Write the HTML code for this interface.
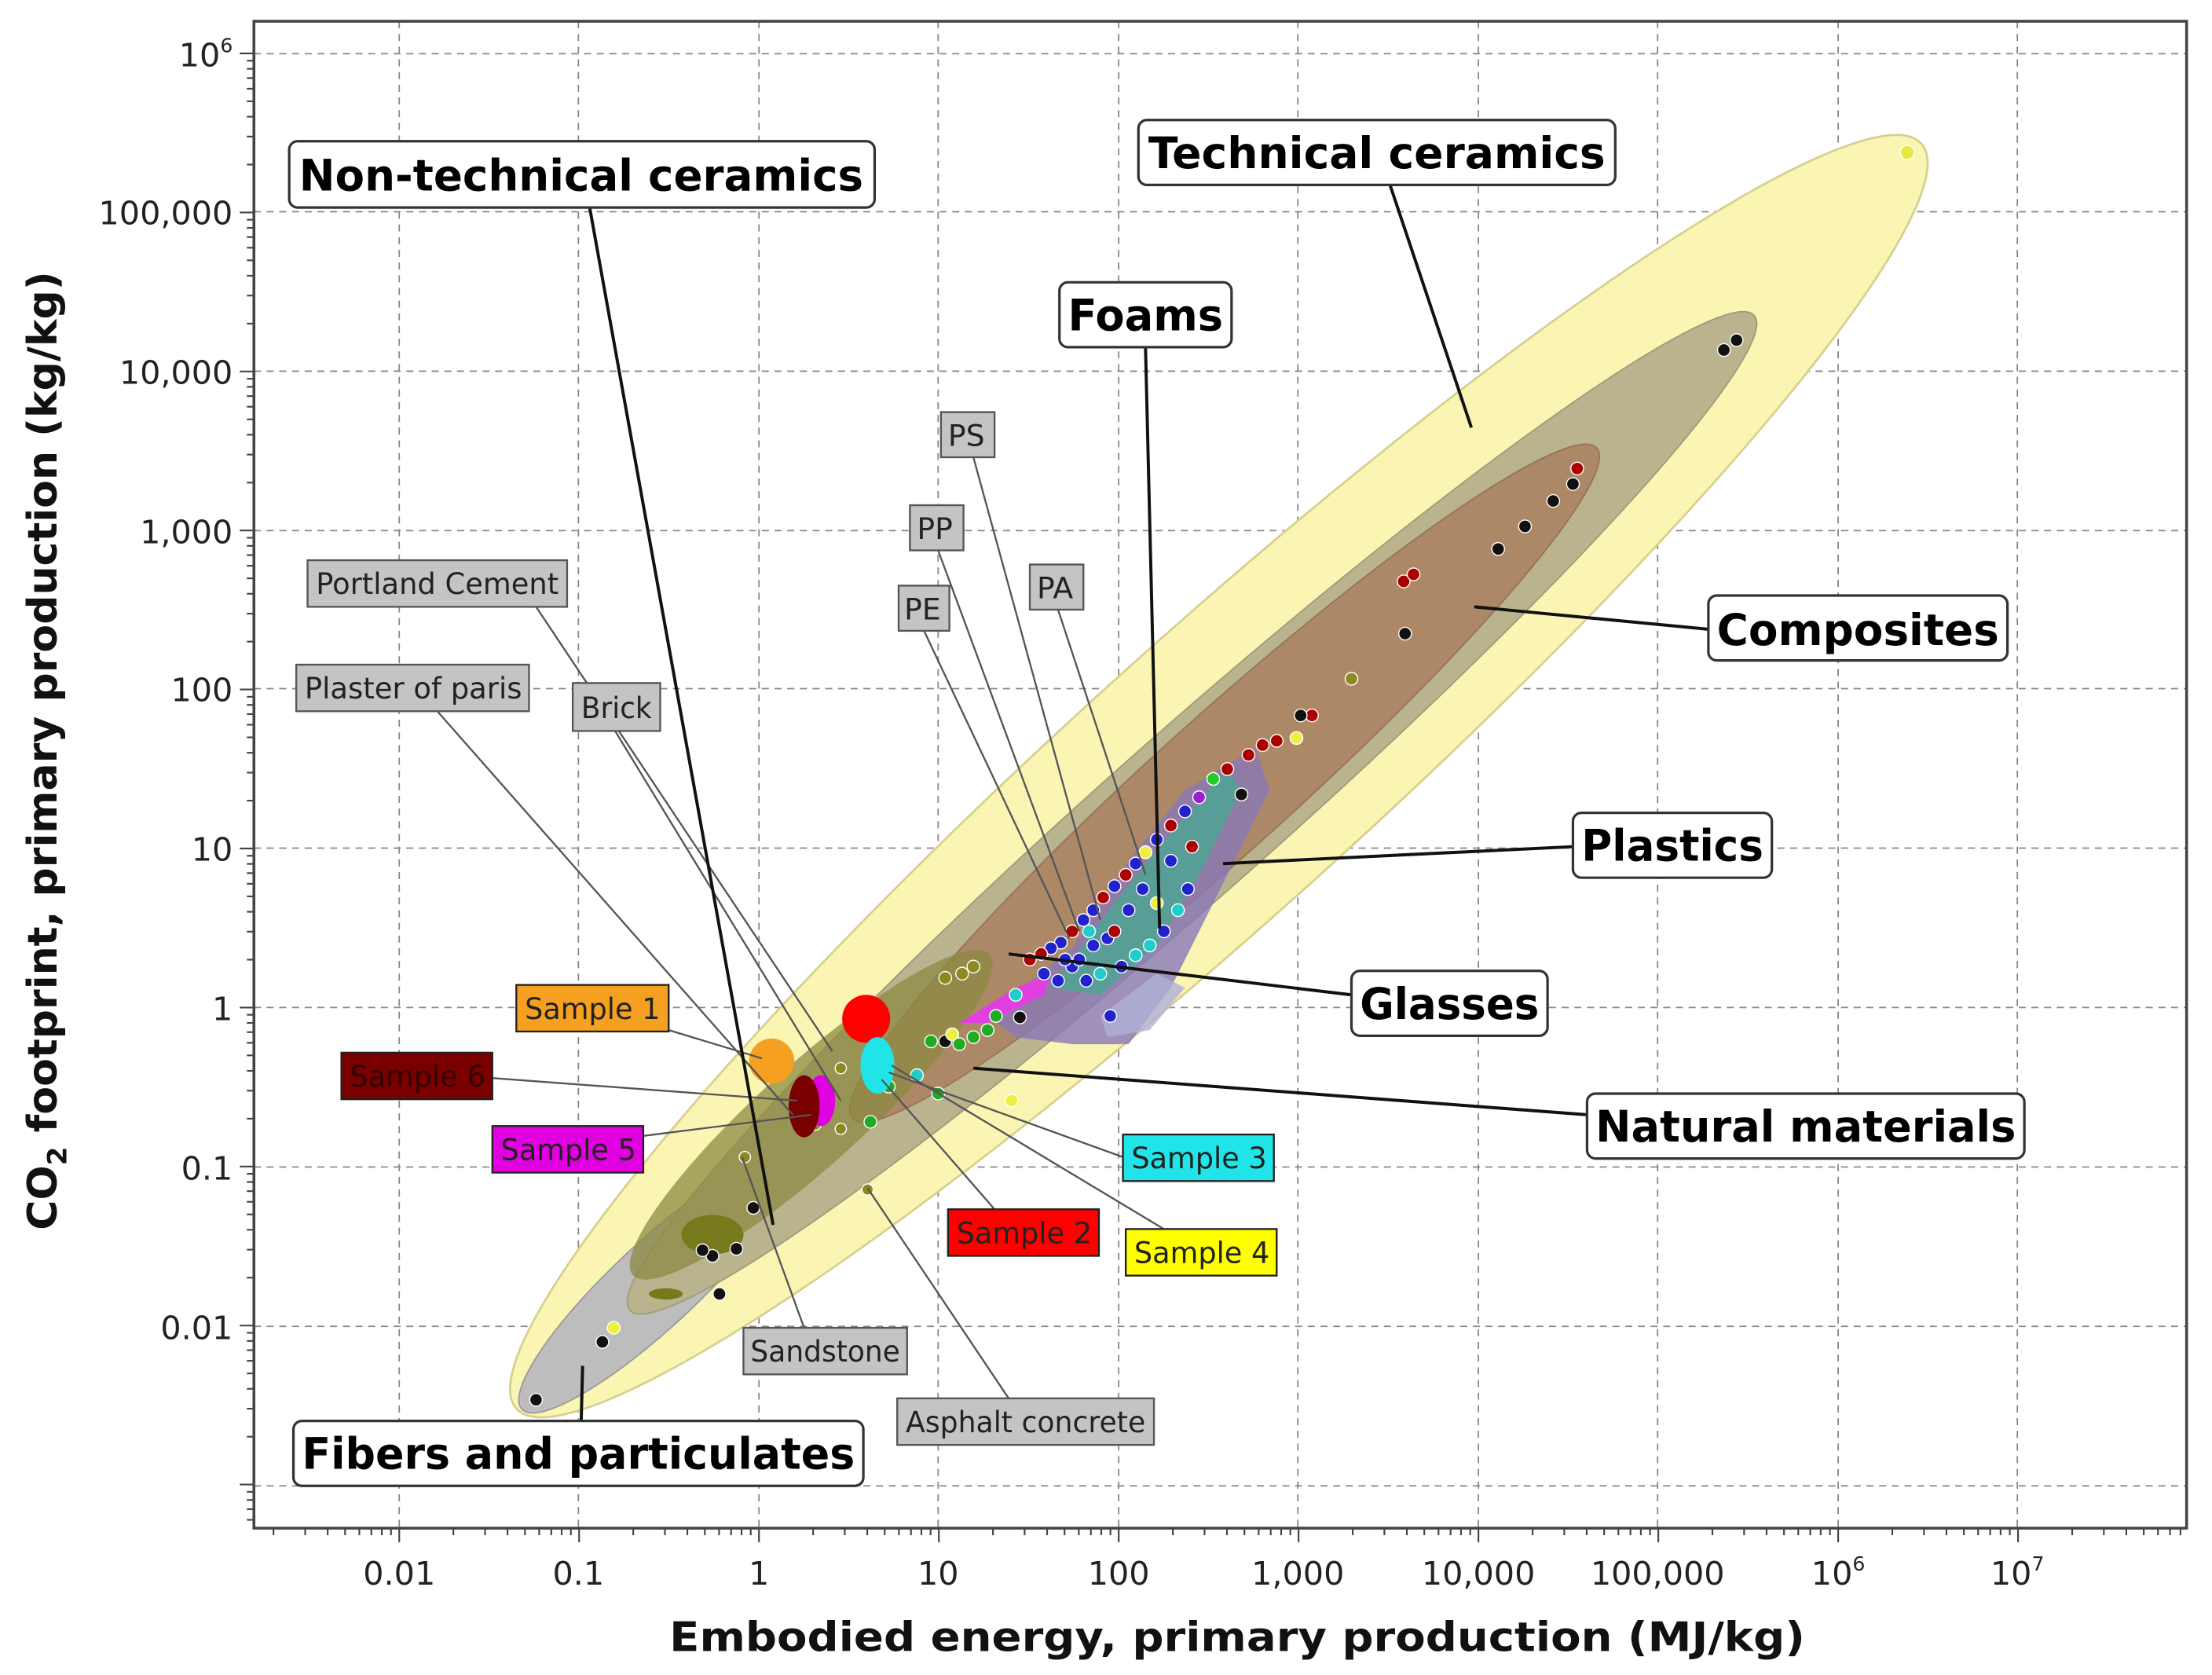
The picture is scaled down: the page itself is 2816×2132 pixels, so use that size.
<!DOCTYPE html>
<html><head><meta charset="utf-8"><style>
html,body{margin:0;padding:0;background:#fff;}
svg{display:block;}
text{font-family:"DejaVu Sans","Liberation Sans",sans-serif;}
</style></head><body>
<svg id="s" width="2816" height="2132" viewBox="0 0 1568 1187" xmlns="http://www.w3.org/2000/svg">
<rect width="1568" height="1187" fill="#fff"/>
<g stroke="#888" stroke-width="1" stroke-dasharray="5,4">
<line x1="180" y1="38" x2="1550" y2="38"/><line x1="180" y1="150" x2="1550" y2="150"/><line x1="180" y1="263" x2="1550" y2="263"/><line x1="180" y1="376" x2="1550" y2="376"/><line x1="180" y1="488" x2="1550" y2="488"/><line x1="180" y1="601" x2="1550" y2="601"/><line x1="180" y1="714" x2="1550" y2="714"/><line x1="180" y1="827" x2="1550" y2="827"/><line x1="180" y1="940" x2="1550" y2="940"/><line x1="180" y1="1053" x2="1550" y2="1053"/>
<line x1="283" y1="15" x2="283" y2="1083"/><line x1="410" y1="15" x2="410" y2="1083"/><line x1="538" y1="15" x2="538" y2="1083"/><line x1="665" y1="15" x2="665" y2="1083"/><line x1="793" y1="15" x2="793" y2="1083"/><line x1="920" y1="15" x2="920" y2="1083"/><line x1="1048" y1="15" x2="1048" y2="1083"/><line x1="1175" y1="15" x2="1175" y2="1083"/><line x1="1303" y1="15" x2="1303" y2="1083"/><line x1="1430" y1="15" x2="1430" y2="1083"/>
</g>
<ellipse cx="864" cy="550" rx="670" ry="100" transform="rotate(-42 864 550)" fill="#fbf5b4" stroke="#d6cf8e" stroke-width="1.5"/>
<ellipse cx="465" cy="910" rx="130" ry="30" transform="rotate(-43 465 910)" fill="#bdbdbd" stroke="#999"/>
<ellipse cx="845" cy="576" rx="532" ry="58" transform="rotate(-41.5 845 576)" fill="#b9b38e" stroke="#a09a78"/>
<ellipse cx="868" cy="555" rx="355" ry="48" transform="rotate(-42 868 555)" fill="#ad8867" stroke="#957456"/>
<ellipse cx="575" cy="790" rx="170" ry="36" transform="rotate(-42 575 790)" fill="#8c8a42" opacity="0.75"/>
<ellipse cx="505" cy="875" rx="22" ry="14" fill="#777a1c"/>
<ellipse cx="472" cy="917" rx="12" ry="4" fill="#777a1c"/>
<polygon points="700,720 760,672 800,610 840,560 890,530 900,560 860,640 830,700 800,740 760,740 720,735" fill="#8878b8" opacity="0.8"/>
<polygon points="745,700 790,640 830,590 870,545 880,560 850,620 820,670 780,705" fill="#4fa393" opacity="0.85"/>
<polygon points="680,725 720,700 745,690 740,705 700,725" fill="#e040e0"/>
<polygon points="780,720 820,690 840,700 815,730 785,735" fill="#b0b0d8" opacity="0.8"/>
<g stroke="#fff" stroke-width="0.8">
<circle cx="1352" cy="108" r="5" fill="#e8e840"/>
<circle cx="1222" cy="248" r="4.5" fill="#111"/><circle cx="1231" cy="241" r="4.5" fill="#111"/>
<circle cx="1118" cy="332" r="4.5" fill="#a00"/><circle cx="1115" cy="343" r="4.5" fill="#111"/><circle cx="1101" cy="355" r="4.5" fill="#111"/><circle cx="1081" cy="373" r="4.5" fill="#111"/><circle cx="1062" cy="389" r="4.5" fill="#111"/>
<circle cx="995" cy="412" r="4.5" fill="#a00"/><circle cx="1002" cy="407" r="4.5" fill="#a00"/><circle cx="996" cy="449" r="4.5" fill="#111"/>
<circle cx="958" cy="481" r="4.5" fill="#8a8a20"/><circle cx="930" cy="507" r="4.5" fill="#a00"/><circle cx="922" cy="507" r="4.5" fill="#111"/><circle cx="919" cy="523" r="4.5" fill="#ee4"/>
<circle cx="880" cy="563" r="4.5" fill="#111"/><circle cx="860" cy="552" r="4.5" fill="#2c2"/><circle cx="850" cy="565" r="4.5" fill="#92c"/><circle cx="840" cy="575" r="4.5" fill="#22c"/><circle cx="830" cy="585" r="4.5" fill="#a00"/><circle cx="820" cy="595" r="4.5" fill="#22c"/><circle cx="812" cy="604" r="4.5" fill="#ee4"/><circle cx="805" cy="612" r="4.5" fill="#22c"/><circle cx="798" cy="620" r="4.5" fill="#a00"/><circle cx="790" cy="628" r="4.5" fill="#22c"/><circle cx="782" cy="636" r="4.5" fill="#a00"/><circle cx="775" cy="645" r="4.5" fill="#22c"/><circle cx="768" cy="652" r="4.5" fill="#22c"/><circle cx="760" cy="660" r="4.5" fill="#a00"/><circle cx="752" cy="668" r="4.5" fill="#22c"/><circle cx="745" cy="672" r="4.5" fill="#22c"/><circle cx="738" cy="676" r="4.5" fill="#a00"/><circle cx="730" cy="680" r="4.5" fill="#a00"/>
<circle cx="870" cy="545" r="4.5" fill="#a00"/><circle cx="885" cy="535" r="4.5" fill="#a00"/><circle cx="895" cy="528" r="4.5" fill="#a00"/><circle cx="905" cy="525" r="4.5" fill="#a00"/>
<circle cx="842" cy="630" r="4.5" fill="#22c"/><circle cx="835" cy="645" r="4.5" fill="#2cc"/><circle cx="825" cy="660" r="4.5" fill="#22c"/><circle cx="815" cy="670" r="4.5" fill="#2cc"/><circle cx="805" cy="677" r="4.5" fill="#2cc"/><circle cx="795" cy="685" r="4.5" fill="#22c"/><circle cx="780" cy="690" r="4.5" fill="#2cc"/><circle cx="770" cy="695" r="4.5" fill="#22c"/><circle cx="760" cy="685" r="4.5" fill="#22c"/><circle cx="765" cy="680" r="4.5" fill="#22c"/><circle cx="775" cy="670" r="4.5" fill="#22c"/><circle cx="785" cy="665" r="4.5" fill="#22c"/><circle cx="740" cy="690" r="4.5" fill="#22c"/><circle cx="750" cy="695" r="4.5" fill="#22c"/>
<circle cx="800" cy="645" r="4.5" fill="#22c"/><circle cx="810" cy="630" r="4.5" fill="#22c"/><circle cx="790" cy="660" r="4.5" fill="#a00"/><circle cx="772" cy="660" r="4.5" fill="#2cc"/><circle cx="755" cy="680" r="4.5" fill="#22c"/><circle cx="830" cy="610" r="4.5" fill="#22c"/><circle cx="845" cy="600" r="4.5" fill="#a00"/><circle cx="820" cy="640" r="4.5" fill="#ee4"/>
<circle cx="787" cy="720" r="4.5" fill="#22c"/><circle cx="723" cy="721" r="4.5" fill="#111"/><circle cx="706" cy="720" r="4.5" fill="#2a2"/><circle cx="720" cy="705" r="4.5" fill="#2cc"/>
<circle cx="682" cy="690" r="4.5" fill="#8a8a20"/><circle cx="670" cy="693" r="4.5" fill="#8a8a20"/><circle cx="690" cy="685" r="4.5" fill="#8a8a20"/>
<circle cx="670" cy="738" r="4.5" fill="#111"/><circle cx="675" cy="733" r="4.5" fill="#ee4"/><circle cx="660" cy="738" r="4.5" fill="#2a2"/><circle cx="680" cy="740" r="4.5" fill="#2a2"/><circle cx="690" cy="735" r="4.5" fill="#2a2"/><circle cx="700" cy="730" r="4.5" fill="#2a2"/><circle cx="665" cy="775" r="4.5" fill="#2a2"/><circle cx="650" cy="762" r="4.5" fill="#2cc"/><circle cx="630" cy="770" r="4.5" fill="#2a2"/><circle cx="617" cy="795" r="4.5" fill="#2a2"/><circle cx="615" cy="843" r="4" fill="#8a8a20"/>
<circle cx="717" cy="780" r="4.5" fill="#ee4"/>
<circle cx="596" cy="757" r="4" fill="#8a8a20"/><circle cx="596" cy="800" r="4" fill="#8a8a20"/><circle cx="578" cy="797" r="4" fill="#8a8a20"/><circle cx="528" cy="820" r="4" fill="#8a8a20"/>
<circle cx="534" cy="856" r="4.5" fill="#111"/><circle cx="522" cy="885" r="4.5" fill="#111"/><circle cx="505" cy="890" r="4.5" fill="#111"/><circle cx="498" cy="886" r="4.5" fill="#111"/><circle cx="510" cy="917" r="4.5" fill="#111"/>
<circle cx="435" cy="941" r="4.5" fill="#ee4"/><circle cx="427" cy="951" r="4.5" fill="#111"/><circle cx="380" cy="992" r="4.5" fill="#111"/>
</g>
<circle cx="547" cy="752" r="16" fill="#f5a020"/>
<circle cx="614" cy="722" r="17" fill="#f00"/>
<ellipse cx="582" cy="780" rx="10" ry="18" fill="#e000e0"/>
<ellipse cx="570" cy="784" rx="11" ry="22" fill="#7a0000"/>
<ellipse cx="622" cy="755" rx="12" ry="20" fill="#20e4e8"/>
<g stroke="#555" stroke-width="1.3" fill="none">
<line x1="690" y1="324" x2="780" y2="652"/><line x1="665" y1="390" x2="765" y2="660"/><line x1="655" y1="447" x2="758" y2="665"/><line x1="750" y1="432" x2="812" y2="620"/>
<line x1="380" y1="430" x2="590" y2="745"/><line x1="310" y1="504" x2="562" y2="790"/><line x1="436" y1="518" x2="596" y2="780"/>
<line x1="570" y1="941" x2="526" y2="820"/><line x1="715" y1="991" x2="615" y2="842"/>
<line x1="474" y1="730" x2="540" y2="750"/><line x1="349" y1="764" x2="565" y2="780"/><line x1="456" y1="805" x2="575" y2="790"/>
<line x1="796" y1="820" x2="630" y2="760"/><line x1="705" y1="857" x2="625" y2="765"/><line x1="825" y1="871" x2="632" y2="755"/>
</g>
<g stroke="#111" stroke-width="2.2" fill="none">
<line x1="418" y1="147" x2="548" y2="868"/><line x1="985" y1="130" x2="1043" y2="303"/><line x1="812" y1="246" x2="822" y2="658"/>
<line x1="1212" y1="446" x2="1045" y2="430"/><line x1="1115" y1="600" x2="867" y2="612"/><line x1="958" y1="705" x2="715" y2="676"/>
<line x1="1125" y1="790" x2="690" y2="757"/><line x1="412" y1="1007" x2="413" y2="968"/>
</g>
<g fill="#fff" stroke="#333" stroke-width="1.8">
<rect x="205" y="100" width="415" height="47" rx="6"/><rect x="807" y="85" width="338" height="46" rx="6"/><rect x="751" y="200" width="122" height="46" rx="6"/>
<rect x="1211" y="422" width="212" height="46" rx="6"/><rect x="1115" y="576" width="141" height="46" rx="6"/><rect x="958" y="688" width="139" height="46" rx="6"/>
<rect x="1125" y="775" width="310" height="46" rx="6"/><rect x="208" y="1007" width="404" height="46" rx="6"/>
</g>
<g font-weight="bold" font-size="31" fill="#000" font-family="Liberation Sans, sans-serif">
<text x="212" y="135" textLength="400" lengthAdjust="spacingAndGlyphs">Non-technical ceramics</text>
<text x="814" y="119" textLength="324" lengthAdjust="spacingAndGlyphs">Technical ceramics</text>
<text x="757" y="234" textLength="110" lengthAdjust="spacingAndGlyphs">Foams</text>
<text x="1217" y="457" textLength="200" lengthAdjust="spacingAndGlyphs">Composites</text>
<text x="1121" y="610" textLength="129" lengthAdjust="spacingAndGlyphs">Plastics</text>
<text x="964" y="722" textLength="127" lengthAdjust="spacingAndGlyphs">Glasses</text>
<text x="1131" y="809" textLength="298" lengthAdjust="spacingAndGlyphs">Natural materials</text>
<text x="214" y="1041" textLength="392" lengthAdjust="spacingAndGlyphs">Fibers and particulates</text>
</g>
<g fill="#c4c4c4" stroke="#555" stroke-width="1.3">
<rect x="667" y="292" width="38" height="32"/><rect x="645" y="358" width="38" height="32"/><rect x="637" y="415" width="36" height="32"/><rect x="730" y="400" width="38" height="32"/>
<rect x="218" y="397" width="184" height="33"/><rect x="210" y="471" width="165" height="33"/><rect x="406" y="484" width="62" height="34"/>
<rect x="527" y="941" width="116" height="33"/><rect x="636" y="991" width="182" height="33"/>
</g>
<g font-size="21" fill="#222">
<text x="672" y="316">PS</text><text x="650" y="382">PP</text><text x="641" y="439">PE</text><text x="735" y="424">PA</text>
<text x="224" y="421" textLength="172" lengthAdjust="spacingAndGlyphs">Portland Cement</text>
<text x="216" y="495" textLength="154" lengthAdjust="spacingAndGlyphs">Plaster of paris</text>
<text x="412" y="509" textLength="50" lengthAdjust="spacingAndGlyphs">Brick</text>
<text x="532" y="965" textLength="106" lengthAdjust="spacingAndGlyphs">Sandstone</text>
<text x="642" y="1015" textLength="170" lengthAdjust="spacingAndGlyphs">Asphalt concrete</text>
</g>
<g stroke="#222" stroke-width="1.3">
<rect x="366" y="698" width="108" height="33" fill="#f5a020"/><rect x="242" y="746" width="107" height="33" fill="#7a0000"/>
<rect x="349" y="798" width="107" height="33" fill="#e000e0"/><rect x="796" y="804" width="107" height="33" fill="#20e4e8"/>
<rect x="672" y="857" width="107" height="33" fill="#f00"/><rect x="798" y="871" width="107" height="33" fill="#ff0"/>
</g>
<g font-size="21" fill="#222">
<text x="372" y="722" textLength="96" lengthAdjust="spacingAndGlyphs">Sample 1</text>
<text x="248" y="770" textLength="96" lengthAdjust="spacingAndGlyphs" fill="#300">Sample 6</text>
<text x="355" y="822" textLength="96" lengthAdjust="spacingAndGlyphs">Sample 5</text>
<text x="802" y="828" textLength="96" lengthAdjust="spacingAndGlyphs">Sample 3</text>
<text x="678" y="881" textLength="96" lengthAdjust="spacingAndGlyphs">Sample 2</text>
<text x="804" y="895" textLength="96" lengthAdjust="spacingAndGlyphs">Sample 4</text>
</g>
<rect x="180" y="15" width="1370" height="1068" fill="none" stroke="#444" stroke-width="2"/>
<g id="ticks" stroke="#444" stroke-width="1.2"></g>
<g font-size="23" fill="#222" text-anchor="end">
<text x="165" y="47">10<tspan font-size="14" dy="-10">6</tspan></text>
<text x="165" y="159">100,000</text><text x="165" y="272">10,000</text><text x="165" y="385">1,000</text><text x="165" y="497">100</text>
<text x="165" y="610">10</text><text x="165" y="723">1</text><text x="165" y="836">0.1</text><text x="165" y="949">0.01</text>
</g>
<g font-size="23" fill="#222" text-anchor="middle">
<text x="283" y="1123">0.01</text><text x="410" y="1123">0.1</text><text x="538" y="1123">1</text><text x="665" y="1123">10</text><text x="793" y="1123">100</text>
<text x="920" y="1123">1,000</text><text x="1048" y="1123">10,000</text><text x="1175" y="1123">100,000</text>
<text x="1303" y="1123">10<tspan font-size="14" dy="-10">6</tspan></text><text x="1430" y="1123">10<tspan font-size="14" dy="-10">7</tspan></text>
</g>
<text x="877" y="1170" text-anchor="middle" font-weight="bold" font-size="29" fill="#111" textLength="805" lengthAdjust="spacingAndGlyphs">Embodied energy, primary production (MJ/kg)</text>
<text transform="translate(40,532) rotate(-90)" text-anchor="middle" font-weight="bold" font-size="29" fill="#111">CO<tspan font-size="19" dy="7">2</tspan><tspan dy="-7"> footprint, primary production (kg/kg)</tspan></text>
</svg>
<script>
(function(){var g=document.getElementById('ticks'),h='';
for(var d=-3;d<8;d++){var x0=283+(d+2)*127.5;for(var k=1;k<10;k++){var x=x0+Math.log10(k)*127.5;if(x<181||x>1549)continue;var L=k==1?10:5;h+='<line x1="'+x+'" y1="1083" x2="'+x+'" y2="'+(1083+L)+'"/>';}}
for(var d=-4;d<7;d++){var y0=714-d*112.7;for(var k=1;k<10;k++){var y=y0-Math.log10(k)*112.7;if(y<16||y>1082)continue;var L=k==1?10:5;h+='<line x1="180" y1="'+y+'" x2="'+(180-L)+'" y2="'+y+'"/>';}}
g.innerHTML=h;})();
</script>
</body></html>
